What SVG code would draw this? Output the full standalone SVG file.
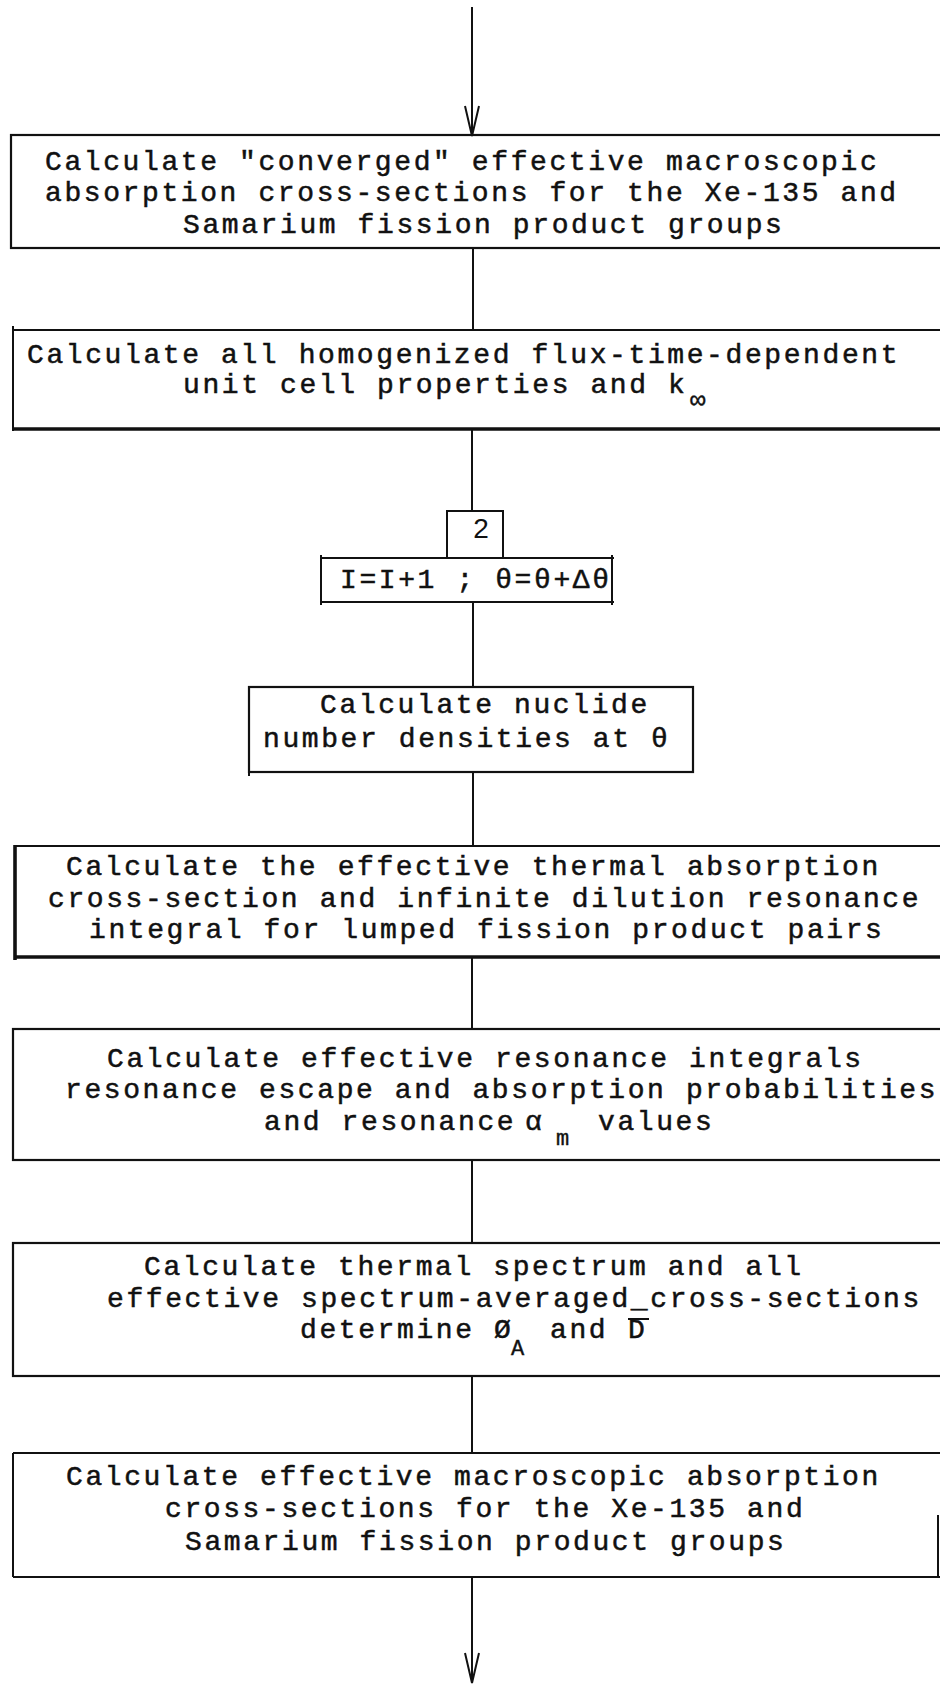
<svg xmlns="http://www.w3.org/2000/svg" width="940" height="1684" viewBox="0 0 940 1684">
<style>
.bg{fill:#ffffff}
.box{fill:none;stroke:#111;stroke-width:2.2}
.thick{stroke:#111;stroke-width:3.6;fill:none}
.ln{stroke:#111;stroke-width:2;fill:none}
.t{font-family:"Liberation Mono","DejaVu Sans Mono",monospace;font-size:28px;letter-spacing:2.6px;fill:#111;stroke:#111;stroke-width:0.5}
.sub{font-family:"Liberation Mono","DejaVu Sans Mono",monospace;font-size:22px;fill:#111;stroke:#111;stroke-width:0.4}
.num{font-family:"Liberation Sans",Arial,sans-serif;font-size:28px;fill:#111}
</style>
<defs>
<marker id="vhead" markerUnits="userSpaceOnUse" markerWidth="36" markerHeight="20" viewBox="-33 -10 36 20" refX="0" refY="0" orient="auto" overflow="visible">
<path d="M-30,-7 L0,0 L-30,7" fill="none" stroke="#111" stroke-width="2"/>
</marker>
</defs>
<rect class="bg" x="0" y="0" width="940" height="1684"/>

<g id="connectors">
<line class="ln" x1="472" y1="7" x2="472" y2="136" marker-end="url(#vhead)"/>
<line class="ln" x1="473" y1="248" x2="473" y2="330"/>
<line class="ln" x1="472" y1="430" x2="472" y2="511"/>
<line class="ln" x1="473" y1="602" x2="473" y2="687"/>
<line class="ln" x1="473" y1="772" x2="473" y2="846"/>
<line class="ln" x1="472" y1="957" x2="472" y2="1029"/>
<line class="ln" x1="472" y1="1160" x2="472" y2="1243"/>
<line class="ln" x1="472" y1="1376" x2="472" y2="1453"/>
<line class="ln" x1="472" y1="1577" x2="472" y2="1683" marker-end="url(#vhead)"/>
</g>

<g id="node1">
<rect class="box" x="11" y="135" width="960" height="113"/>
<text class="t" x="45" y="170">Calculate "converged" effective macroscopic</text>
<text class="t" x="45" y="201">absorption cross-sections for the Xe-135 and</text>
<text class="t" x="183" y="233">Samarium fission product groups</text>
</g>

<g id="node2">
<line class="ln" x1="13" y1="330" x2="945" y2="330"/>
<line class="ln" x1="13" y1="326" x2="13" y2="431"/>
<line class="thick" x1="13" y1="429" x2="945" y2="429"/>
<text class="t" x="27" y="363">Calculate all homogenized flux-time-dependent</text>
<text class="t" x="183" y="393">unit cell properties and k</text>
<text class="sub" x="690" y="408" style="font-size:26px">∞</text>
</g>

<g id="node_label2">
<polyline class="ln" points="447,558 447,511 503,511 503,558"/>
<text class="num" x="481" y="538" text-anchor="middle">2</text>
</g>

<g id="node_increment">
<line class="ln" x1="320" y1="558" x2="614" y2="558"/>
<line class="ln" x1="321" y1="555" x2="321" y2="605"/>
<line class="ln" x1="612" y1="555" x2="612" y2="605"/>
<line class="ln" x1="320" y1="602" x2="614" y2="602"/>
<text class="t" x="340" y="588">I=I+1 ; θ=θ+Δθ</text>
</g>

<g id="node3">
<rect class="box" x="249" y="687" width="444" height="85"/>
<line class="ln" x1="249" y1="687" x2="249" y2="776"/>
<text class="t" x="320" y="713">Calculate nuclide</text>
<text class="t" x="263" y="747">number densities at θ</text>
</g>

<g id="node4">
<line class="ln" x1="14" y1="846" x2="945" y2="846"/>
<line class="thick" x1="15" y1="845" x2="15" y2="960"/>
<line class="thick" x1="14" y1="957" x2="945" y2="957"/>
<text class="t" x="66" y="875">Calculate the effective thermal absorption</text>
<text class="t" x="48" y="907">cross-section and infinite dilution resonance</text>
<text class="t" x="89" y="938">integral for lumped fission product pairs</text>
</g>

<g id="node5">
<rect class="box" x="13" y="1029" width="960" height="131"/>
<text class="t" x="107" y="1067">Calculate effective resonance integrals</text>
<text class="t" x="65" y="1098">resonance escape and absorption probabilities</text>
<text class="t" x="264" y="1130">and resonance</text>
<text class="t" x="525" y="1130">α</text>
<text class="sub" x="556" y="1145">m</text>
<text class="t" x="598" y="1130">values</text>
</g>

<g id="node6">
<rect class="box" x="13" y="1243" width="960" height="133"/>
<text class="t" x="144" y="1275">Calculate thermal spectrum and all</text>
<text class="t" x="107" y="1307">effective spectrum-averaged_cross-sections</text>
<text class="t" x="300" y="1338">determine Ø</text>
<text class="sub" x="511" y="1355">A</text>
<text class="t" x="550" y="1338">and</text>
<text class="t" x="628" y="1338">D</text>
<line class="ln" x1="628" y1="1319" x2="649" y2="1319"/>
</g>

<g id="node7">
<line class="ln" x1="13" y1="1453" x2="945" y2="1453"/>
<line class="ln" x1="13" y1="1453" x2="13" y2="1577"/>
<line class="ln" x1="13" y1="1577" x2="945" y2="1577"/>
<line class="ln" x1="938" y1="1515" x2="938" y2="1577"/>
<text class="t" x="66" y="1485">Calculate effective macroscopic absorption</text>
<text class="t" x="165" y="1517">cross-sections for the Xe-135 and</text>
<text class="t" x="185" y="1550">Samarium fission product groups</text>
</g>
</svg>
